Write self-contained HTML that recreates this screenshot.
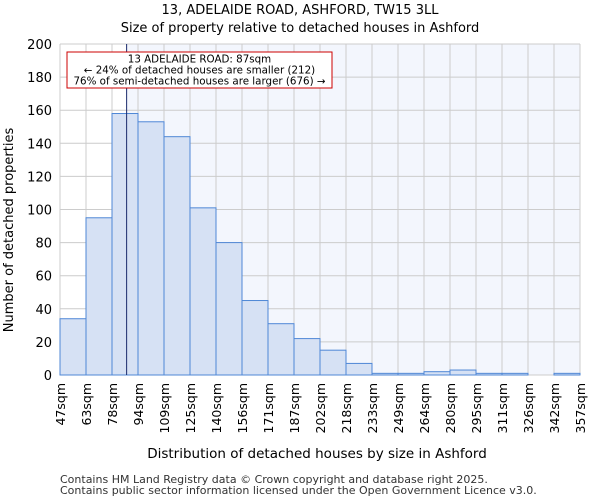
<!DOCTYPE html>
<html><head><meta charset="utf-8"><style>
body{margin:0;background:#fff;font-family:"DejaVu Sans","Liberation Sans",sans-serif;}
svg text{font-family:"DejaVu Sans","Liberation Sans",sans-serif;}
</style></head><body>
<svg id="c" width="600" height="500" xmlns="http://www.w3.org/2000/svg">
<text x="300" y="14" text-anchor="middle" font-size="13">13, ADELAIDE ROAD, ASHFORD, TW15 3LL</text>
<text x="300" y="32" text-anchor="middle" font-size="13">Size of property relative to detached houses in Ashford</text>
<g id="plot"></g>
<text x="317" y="458" text-anchor="middle" font-size="13.5">Distribution of detached houses by size in Ashford</text>
<text transform="translate(13,230) rotate(-90)" text-anchor="middle" font-size="13">Number of detached properties</text>
<text x="60" y="483" font-size="11" fill="#333">Contains HM Land Registry data © Crown copyright and database right 2025.</text>
<text x="60" y="494" font-size="11" fill="#333">Contains public sector information licensed under the Open Government Licence v3.0.</text>
</svg>
<script>
const categories=["47sqm","63sqm","78sqm","94sqm","109sqm","125sqm","140sqm","156sqm","171sqm","187sqm","202sqm","218sqm","233sqm","249sqm","264sqm","280sqm","295sqm","311sqm","326sqm","342sqm","357sqm"];
const counts=[34,95,158,153,144,101,80,45,31,22,15,7,1,1,2,3,1,1,0,1];
const yTicks=[0,20,40,60,80,100,120,140,160,180,200];
const binEdges=[47,63,78,94,109,125,140,156,171,187,202,218,233,249,264,280,295,311,326,342,357];
const propertySize=87;
const NS="http://www.w3.org/2000/svg";
const g=document.getElementById('plot');
const X0=60,X1=580,Y0=375,Y1=44,bw=(X1-X0)/counts.length;
const y=v=>Y0-(v/200)*(Y0-Y1);
const xi=i=>X0+i*bw;
function xv(v){for(let i=0;i<binEdges.length-1;i++){if(v<=binEdges[i+1])return xi(i)+(v-binEdges[i])/(binEdges[i+1]-binEdges[i])*bw;}return X1;}
function mk(t,a){const e=document.createElementNS(NS,t);for(const k in a)e.setAttribute(k,a[k]);g.appendChild(e);return e;}
const mx=xv(propertySize);
let e=mk('rect',{x:X0,y:Y1,width:X1-X0,height:Y0-Y1,fill:'#fff'});


e=mk('rect',{x:mx,y:Y1,width:X1-mx,height:Y0-Y1,fill:'#f3f6fd'});


for(let i=0;i<=counts.length;i++){e=mk('line',{x1:xi(i),x2:xi(i),y1:Y1,y2:Y0,stroke:'#ccc','stroke-width':1});

}
yTicks.forEach(t=>{e=mk('line',{x1:X0,x2:X1,y1:y(t),y2:y(t),stroke:'#ccc','stroke-width':1});


e=mk('text',{x:X0-8,y:y(t)+5,'text-anchor':'end','font-size':13});e.textContent=t;

});
counts.forEach((c,i)=>{if(c<=0)return;e=mk('rect',{x:xi(i),y:y(c),width:bw,height:Y0-y(c),fill:'#d6e1f4',stroke:'#4f87d6','stroke-width':1});

});
categories.forEach((c,i)=>{e=mk('text',{transform:`translate(${xi(i)+5},383) rotate(-90)`,'text-anchor':'end','font-size':12.5});e.textContent=c;

});
e=mk('line',{x1:mx,x2:mx,y1:Y1,y2:Y0,stroke:'#1a2a6c','stroke-width':1});


e=mk('rect',{x:67,y:52,width:265,height:36,fill:'#fff',stroke:'#c00','stroke-width':1});


["13 ADELAIDE ROAD: 87sqm","← 24% of detached houses are smaller (212)","76% of semi-detached houses are larger (676) →"].forEach((s,i)=>{e=mk('text',{x:199.5,y:62.5+i*11,'text-anchor':'middle','font-size':10.3});e.textContent=s;

});
</script>
</body></html>
